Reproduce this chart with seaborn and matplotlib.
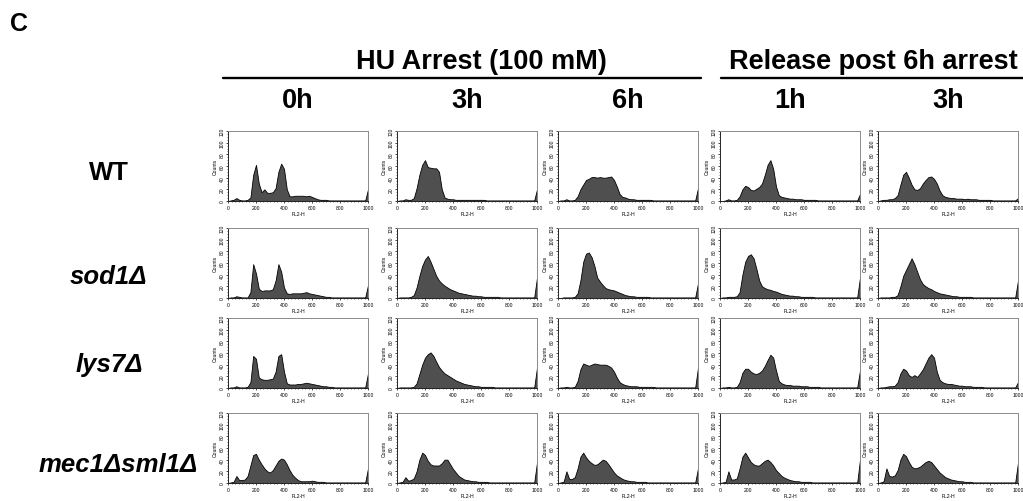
import numpy as np
import pandas as pd
import seaborn as sns
import matplotlib.pyplot as plt
from matplotlib.lines import Line2D
from matplotlib.ticker import MultipleLocator

# channel positions (FL2-H), one value every 20 channels
channels = list(range(0, 1001, 20))

strains = ["WT", "sod1Δ", "lys7Δ", "mec1Δsml1Δ"]
timepoints = ["0h", "3h", "6h", "1h", "3h"]

# counts per channel
wt_0h = [0, 1, 2, 5, 2, 1, 1, 2, 6, 45,
         62, 30, 15, 20, 14, 14, 15, 22, 50, 64,
         55, 20, 8, 8, 9, 9, 9, 9, 8, 9,
         7, 5, 3, 2, 2, 2, 1, 1, 1, 1,
         1, 1, 1, 1, 1, 1, 1, 1, 1, 1, 20]
wt_3h = [0, 1, 1, 3, 2, 2, 5, 22, 45, 62,
         70, 58, 57, 56, 56, 50, 20, 6, 4, 3,
         3, 2, 2, 2, 2, 2, 2, 2, 2, 2,
         2, 2, 1, 1, 1, 1, 1, 1, 1, 1,
         1, 1, 1, 1, 1, 1, 1, 1, 1, 1, 20]
wt_6h = [0, 1, 1, 3, 1, 1, 2, 8, 20, 28,
         36, 38, 41, 41, 40, 41, 40, 40, 41, 42,
         36, 25, 12, 7, 6, 4, 3, 3, 2, 2,
         2, 2, 2, 2, 1, 1, 1, 1, 1, 1,
         1, 1, 1, 1, 1, 1, 1, 1, 1, 1, 22]
wt_r1h = [0, 0, 1, 3, 1, 1, 2, 8, 20, 26,
          24, 19, 18, 21, 24, 30, 45, 62, 70, 55,
          25, 10, 7, 6, 5, 4, 4, 3, 3, 3,
          2, 2, 2, 2, 2, 1, 1, 1, 1, 1,
          1, 1, 1, 1, 1, 1, 1, 1, 1, 1, 12]
wt_r3h = [0, 1, 2, 2, 3, 3, 5, 10, 28, 45,
          50, 40, 28, 20, 19, 22, 30, 36, 41, 42,
          38, 30, 18, 10, 7, 6, 5, 5, 4, 4,
          4, 3, 4, 3, 3, 3, 2, 2, 2, 2,
          2, 1, 1, 1, 1, 1, 1, 1, 1, 1, 5]

sod1_0h = [0, 1, 1, 3, 2, 1, 1, 1, 10, 58,
           42, 16, 12, 13, 13, 13, 15, 30, 58, 45,
           18, 8, 7, 8, 8, 8, 8, 9, 10, 8,
           7, 6, 5, 4, 3, 2, 2, 1, 1, 1,
           1, 1, 1, 1, 1, 1, 1, 1, 1, 1, 22]
sod1_3h = [0, 1, 1, 1, 1, 2, 5, 18, 38, 55,
           66, 72, 62, 50, 38, 30, 25, 21, 18, 15,
           13, 11, 9, 8, 7, 6, 5, 4, 4, 3,
           3, 2, 2, 2, 2, 2, 2, 1, 1, 1,
           1, 1, 1, 1, 1, 1, 1, 1, 1, 1, 35]
sod1_6h = [0, 0, 1, 1, 1, 1, 2, 8, 30, 62,
           76, 78, 70, 55, 35, 28, 22, 17, 15, 14,
           13, 11, 9, 7, 5, 4, 3, 3, 2, 2,
           2, 2, 2, 1, 1, 1, 1, 1, 1, 1,
           1, 1, 1, 1, 1, 1, 1, 1, 1, 1, 25]
sod1_r1h = [0, 1, 1, 2, 2, 2, 3, 10, 40, 62,
            72, 75, 68, 50, 30, 20, 17, 15, 14, 12,
            11, 9, 7, 6, 5, 4, 4, 3, 3, 2,
            2, 2, 2, 2, 1, 1, 1, 1, 1, 1,
            1, 1, 1, 1, 1, 1, 1, 1, 1, 1, 35]
sod1_r3h = [0, 1, 1, 1, 1, 2, 2, 5, 20, 38,
            48, 58, 68, 58, 45, 32, 24, 20, 17, 15,
            12, 10, 8, 7, 6, 5, 4, 3, 3, 2,
            2, 2, 2, 2, 1, 1, 1, 1, 1, 1,
            1, 1, 1, 1, 1, 1, 1, 1, 1, 1, 30]

lys7_0h = [0, 1, 1, 3, 1, 1, 1, 2, 10, 55,
           50, 18, 15, 14, 14, 15, 16, 28, 55, 58,
           28, 8, 6, 6, 6, 7, 7, 8, 9, 8,
           7, 6, 5, 4, 3, 3, 2, 2, 1, 1,
           1, 1, 1, 1, 1, 1, 1, 1, 1, 1, 25]
lys7_3h = [0, 1, 1, 1, 1, 1, 2, 8, 24, 40,
           52, 58, 61, 55, 45, 36, 30, 25, 22, 19,
           16, 13, 11, 9, 7, 6, 5, 4, 3, 3,
           2, 2, 2, 2, 2, 1, 1, 1, 1, 1,
           1, 1, 1, 1, 1, 1, 1, 1, 1, 1, 35]
lys7_6h = [0, 1, 1, 2, 1, 1, 2, 12, 32, 42,
           40, 38, 40, 42, 41, 40, 40, 40, 38, 35,
           28, 18, 10, 7, 5, 4, 3, 3, 3, 2,
           2, 2, 2, 2, 2, 1, 1, 1, 1, 1,
           1, 1, 1, 1, 1, 1, 1, 1, 1, 1, 35]
lys7_r1h = [0, 1, 1, 2, 1, 1, 2, 10, 26, 33,
            33, 28, 25, 24, 26, 30, 38, 48, 57, 52,
            30, 12, 8, 6, 5, 5, 4, 4, 4, 3,
            3, 3, 2, 2, 2, 2, 1, 1, 1, 1,
            1, 1, 1, 1, 1, 1, 1, 1, 1, 1, 30]
lys7_r3h = [0, 1, 1, 2, 3, 3, 4, 10, 25, 33,
            30, 22, 19, 22, 19, 25, 32, 42, 52, 58,
            52, 28, 14, 10, 8, 7, 7, 6, 5, 4,
            4, 3, 3, 3, 2, 2, 2, 2, 1, 1,
            1, 1, 1, 1, 1, 1, 1, 1, 1, 1, 10]

mec1_0h = [0, 1, 2, 12, 5, 5, 6, 12, 30, 48,
           50, 40, 32, 25, 20, 18, 22, 30, 38, 42,
           40, 32, 22, 14, 9, 5, 3, 3, 3, 3,
           4, 3, 2, 2, 2, 1, 1, 1, 1, 1,
           1, 1, 1, 1, 1, 1, 1, 1, 1, 1, 25]
mec1_3h = [0, 1, 2, 10, 4, 5, 8, 20, 40, 52,
           48, 38, 32, 30, 30, 30, 34, 40, 40, 32,
           24, 18, 12, 9, 6, 5, 4, 3, 3, 2,
           2, 2, 2, 1, 1, 1, 1, 1, 1, 1,
           1, 1, 1, 1, 1, 1, 1, 1, 1, 1, 35]
mec1_6h = [0, 1, 2, 20, 7, 7, 10, 25, 45, 52,
           44, 38, 34, 31, 32, 36, 40, 38, 32, 25,
           18, 13, 10, 7, 5, 4, 3, 3, 2, 2,
           2, 2, 1, 1, 1, 1, 1, 1, 1, 1,
           1, 1, 1, 1, 1, 1, 1, 1, 1, 1, 25]
mec1_r1h = [0, 1, 2, 20, 6, 6, 8, 25, 45, 52,
            44, 36, 32, 30, 30, 34, 38, 40, 36, 30,
            22, 17, 12, 9, 7, 5, 4, 3, 3, 2,
            2, 2, 2, 1, 1, 1, 1, 1, 1, 1,
            1, 1, 1, 1, 1, 1, 1, 1, 1, 1, 40]
mec1_r3h = [0, 1, 3, 25, 12, 11, 13, 22, 40, 50,
            46, 36, 28, 25, 26, 28, 32, 36, 38, 36,
            30, 24, 18, 14, 10, 8, 6, 5, 4, 3,
            3, 2, 2, 2, 1, 1, 1, 1, 1, 1,
            1, 1, 1, 1, 1, 1, 1, 1, 1, 1, 35]

grid = [
    [wt_0h, wt_3h, wt_6h, wt_r1h, wt_r3h],
    [sod1_0h, sod1_3h, sod1_6h, sod1_r1h, sod1_r3h],
    [lys7_0h, lys7_3h, lys7_6h, lys7_r1h, lys7_r3h],
    [mec1_0h, mec1_3h, mec1_6h, mec1_r1h, mec1_r3h],
]

sns.set_style("ticks")
plt.rcParams['font.family'] = ['Liberation Sans', 'DejaVu Sans']
plt.rcParams['text.color'] = 'black'
plt.rcParams['axes.labelcolor'] = 'black'
plt.rcParams['xtick.color'] = 'black'
plt.rcParams['ytick.color'] = 'black'

W, H = 1023, 502
fig = plt.figure(figsize=(W / 100, H / 100), dpi=100)

# panel placement in pixels
col_x = [228, 397, 558, 720, 878]
row_y = [132, 229, 319, 414]
pw, ph = 140, 70

for r, row in enumerate(grid):
    for c, counts in enumerate(row):
        ax = fig.add_axes([col_x[c] / W, 1 - (row_y[r] + ph) / H, pw / W, ph / H])
        df = pd.DataFrame({"ch": channels, "n": counts})
        sns.histplot(data=df, x="ch", weights="n", binwidth=20, binrange=(-10, 1010),
                     element="poly", color="#4f4f4f", alpha=1, edgecolor="black",
                     linewidth=0.6, ax=ax)
        ax.set_xlim(0, 1000)
        ax.set_ylim(0, 120)
        ax.set_xticks(range(0, 1001, 200))
        ax.set_yticks(range(0, 121, 20))
        ax.xaxis.set_minor_locator(MultipleLocator(25))
        ax.yaxis.set_minor_locator(MultipleLocator(5))
        ax.tick_params(labelsize=3.6, length=1.6, width=0.5, pad=1)
        ax.tick_params(which="minor", length=0.9, width=0.4)
        for lab in ax.get_yticklabels():
            lab.set_rotation(90)
            lab.set_va("center")
        ax.set_xlabel("FL2-H", fontsize=3.6, labelpad=1)
        ax.set_ylabel("Counts", fontsize=3.6, labelpad=1)
        ax.spines["left"].set_linewidth(0.7)
        ax.spines["bottom"].set_linewidth(0.7)
        for s in ["top", "right"]:
            ax.spines[s].set_visible(True)
            ax.spines[s].set_color("#8a8a8a")
            ax.spines[s].set_linewidth(0.7)


def fx(x):
    return x / W


def fy(y):
    return 1 - y / H


fig.text(fx(10), fy(24), "C", fontsize=18, fontweight="bold", ha="left", va="center")

fig.text(fx(481), fy(62), "HU Arrest (100 mM)", fontsize=19.5, fontweight="bold",
         ha="center", va="center")
fig.text(fx(873), fy(62), "Release post 6h arrest", fontsize=19.5, fontweight="bold",
         ha="center", va="center")
fig.add_artist(Line2D([fx(223), fx(701)], [fy(79), fy(79)], color="black", lw=1.7))
fig.add_artist(Line2D([fx(721), fx(1023)], [fy(79), fy(79)], color="black", lw=1.7))

for c, t in enumerate(timepoints):
    fig.text(fx(col_x[c] + pw / 2), fy(101), t, fontsize=19.5, fontweight="bold",
             ha="center", va="center")

label_pos = [(109, 173), (108, 277), (109, 365), (118, 465)]
for i, name in enumerate(strains):
    style = "normal" if name == "WT" else "italic"
    fig.text(fx(label_pos[i][0]), fy(label_pos[i][1]), name, fontsize=18.5,
             fontweight="bold", fontstyle=style, ha="center", va="center")

fig.savefig("out.png", dpi=100)
